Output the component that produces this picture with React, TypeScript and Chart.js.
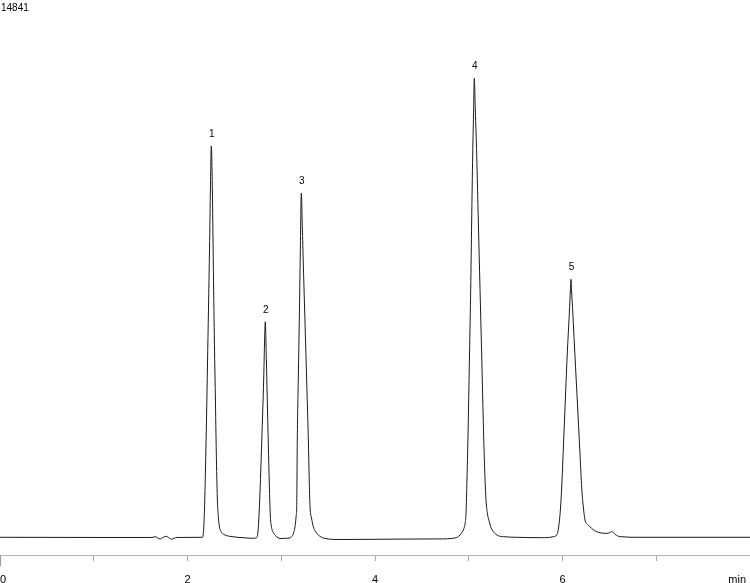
import React, { useEffect, useRef } from 'react';
import { Chart, registerables } from 'chart.js';

Chart.register(...registerables);

// retention time (min) and detector signal
const times = [
  0, 1.067, 1.6, 1.632, 1.653, 1.68, 1.707, 1.739, 1.771, 1.803, 1.831, 1.856, 1.888, 2.027, 2.144,
  2.16, 2.171, 2.181, 2.192, 2.203, 2.213, 2.224, 2.235, 2.245, 2.254,
  2.265, 2.275, 2.286, 2.297, 2.307, 2.318, 2.329, 2.339, 2.357, 2.389, 2.464, 2.613, 2.699, 2.731,
  2.749, 2.759, 2.77, 2.781, 2.791, 2.802, 2.813, 2.821, 2.83,
  2.841, 2.851, 2.862, 2.873, 2.883, 2.894, 2.915, 2.944, 2.987, 3.058,
  3.111, 3.131, 3.147, 3.16, 3.165, 3.171, 3.182, 3.193, 3.203, 3.214,
  3.225, 3.235, 3.248, 3.261, 3.275, 3.289, 3.298, 3.307, 3.323, 3.342, 3.365, 3.395, 3.459, 3.627,
  4.267, 4.693, 4.853, 4.907, 4.949, 4.96, 4.971, 4.981, 4.995, 5.008, 5.021, 5.031, 5.042, 5.051, 5.059,
  5.07, 5.085, 5.102, 5.12, 5.138, 5.155, 5.17, 5.184, 5.2, 5.219, 5.237, 5.262, 5.315, 5.387, 5.511,
  5.795, 5.902, 5.938, 5.952, 5.966, 5.979, 5.991, 6.011, 6.03, 6.051, 6.073, 6.084, 6.091,
  6.097, 6.107, 6.123, 6.139, 6.155, 6.171, 6.187, 6.205, 6.222, 6.24, 6.267, 6.293, 6.325, 6.365, 6.411,
  6.471, 6.501, 6.525, 6.544, 6.56, 6.587, 6.613, 6.827, 7.467, 8.0,
];

const signal = [
  0, -5, -5, 0, 17, -14, -47, -5, 28, -14, -55, -28, -5, -3, 0,
  0, 174, 754, 1914, 3295, 4759, 6333, 7990, 9704, 10809,
  9648, 7604, 5560, 3903, 2356, 1085, 561, 312, 160, 77, 22, -14, -28, -19,
  91, 423, 1030, 1804, 2577, 3461, 4400, 5311, 5955,
  4898, 3793, 2577, 1445, 616, 312, 133, 36, -33, -28,
  17, 119, 293, 616, 845, 2687, 4400, 6112, 7825, 9510,
  8543, 7576, 6416, 5256, 3986, 2687, 1638, 845, 533, 293, 160, 64, -28, -61,
  -50, -45, -19, 64, 249, 367, 671, 1583, 3193, 5035, 6877, 8709, 10559, 11664, 12677,
  11803, 10559, 8736, 6877, 5035, 3193, 1859, 1030, 644, 431, 271, 155, 44, 14, 0,
  -11, 17, 64, 174, 431, 809, 1362, 2577, 3792, 5090, 6195, 6830, 7126,
  6803, 6326, 5518, 4709, 3903, 3093, 2287, 1362, 837, 478, 354, 293, 215, 155, 119,
  110, 124, 155, 133, 83, 41, 17, 0, 0, 0,
];

// numbered peaks
const peakNames = ['1', '2', '3', '4', '5'];
const peakTimes = [2.254, 2.83, 3.214, 5.059, 6.091];
const peakHeights = [10809, 5955, 9510, 12677, 7126];

const xTickValues = [0, 1, 2, 3, 4, 5, 6, 7, 8];
const xTickLabels = ['0', '', '2', '', '4', '', '6', '', 'min'];
const fullScale = 14841;
const yMin = -489;

const FONT = '"Liberation Sans", Arial, sans-serif';

const annotations = {
  id: 'annotations',
  afterDraw(chart: Chart) {
    const ctx = chart.ctx;
    const xs = chart.scales.x;
    const ys = chart.scales.y;
    const bottom = chart.chartArea.bottom;
    ctx.save();

    // longer tick at zero
    ctx.strokeStyle = '#9a9a9a';
    ctx.lineWidth = 1;
    const x0 = Math.round(xs.getPixelForValue(0)) + 0.5;
    ctx.beginPath();
    ctx.moveTo(x0, bottom);
    ctx.lineTo(x0, bottom + 11);
    ctx.stroke();

    // axis labels
    ctx.fillStyle = '#000';
    ctx.font = '11px ' + FONT;
    ctx.textBaseline = 'alphabetic';
    xTickValues.forEach((v, i) => {
      const label = xTickLabels[i];
      if (!label) return;
      const px = xs.getPixelForValue(v);
      ctx.textAlign = i === 0 ? 'left' : i === xTickValues.length - 1 ? 'right' : 'center';
      ctx.fillText(label, i === xTickValues.length - 1 ? px - 4 : px, 583);
    });

    // peak numbers
    ctx.font = '10px ' + FONT;
    ctx.textAlign = 'center';
    peakNames.forEach((name, i) => {
      const px = xs.getPixelForValue(peakTimes[i]);
      const py = ys.getPixelForValue(peakHeights[i]);
      ctx.fillText(name, px + 0.5, py - 9);
    });

    // full scale value
    ctx.textAlign = 'left';
    ctx.fillText(String(fullScale), 1, 11);
    ctx.restore();
  },
};

const App: React.FC = () => {
  const canvasRef = useRef<HTMLCanvasElement | null>(null);

  useEffect(() => {
    if (!canvasRef.current) return;
    const chart = new Chart(canvasRef.current, {
      type: 'line',
      data: {
        datasets: [
          {
            data: times.map((t, i) => ({ x: t, y: signal[i] })),
            borderColor: '#1a1a1a',
            borderWidth: 1,
            pointRadius: 0,
            fill: false,
            cubicInterpolationMode: 'monotone',
          },
        ],
      },
      options: {
        animation: false,
        responsive: true,
        maintainAspectRatio: false,
        layout: { padding: { left: 0, right: 0, top: 0, bottom: 22 } },
        plugins: {
          legend: { display: false },
          tooltip: { enabled: false },
        },
        scales: {
          x: {
            type: 'linear',
            min: 0,
            max: 8,
            afterBuildTicks: (scale) => {
              scale.ticks = xTickValues.map((v) => ({ value: v }));
            },
            ticks: { display: false },
            grid: {
              drawOnChartArea: false,
              drawTicks: true,
              tickLength: 6,
              color: '#a8a8a8',
            },
            border: { display: true, color: '#b4b4b4', width: 1 },
          },
          y: {
            display: false,
            min: yMin,
            max: fullScale,
          },
        },
      },
      plugins: [annotations],
    });
    return () => chart.destroy();
  }, []);

  return (
    <div style={{ position: 'absolute', left: 0, top: 0, width: 750, height: 583, background: '#fff' }}>
      <canvas ref={canvasRef} />
    </div>
  );
};

export default App;
